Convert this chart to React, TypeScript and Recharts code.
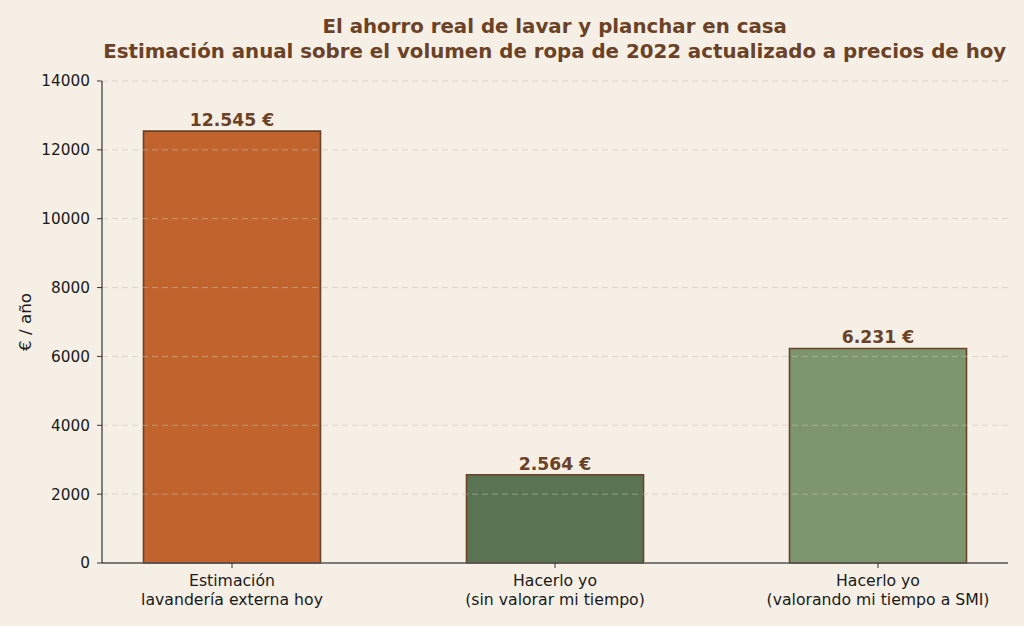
import React from 'react';
import {
  BarChart, Bar, XAxis, YAxis, Cell, LabelList, ReferenceLine
} from 'recharts';

// values
const categories = [
  ['Estimación', 'lavandería externa hoy'],
  ['Hacerlo yo', '(sin valorar mi tiempo)'],
  ['Hacerlo yo', '(valorando mi tiempo a SMI)'],
];
const savings = [12545, 2564, 6231];
const barColors = ['#C0632D', '#5A7352', '#7E9670'];
const yTicks = [0, 2000, 4000, 6000, 8000, 10000, 12000, 14000];
const titleLines = [
  'El ahorro real de lavar y planchar en casa',
  'Estimación anual sobre el volumen de ropa de 2022 actualizado a precios de hoy',
];

const FONT = '"DejaVu Sans", sans-serif';
const BROWN = '#6B4226';

const chartData = savings.map((v, i) => ({ x: i, value: v }));

const euro = (v: any) => `${String(v).replace(/\B(?=(\d{3})+(?!\d))/g, '.')} €`;

const CategoryTick = (props: any) => {
  const { x, y, payload } = props;
  const lines = categories[payload.value] || [];
  return (
    <g transform={`translate(${x},${y})`}>
      <text textAnchor="middle" fill="#1a1a1a" fontSize={15.7} fontFamily={FONT}>
        {lines.map((l, i) => (
          <tspan key={i} x={0} dy={i === 0 ? 16 : 19}>{l}</tspan>
        ))}
      </text>
    </g>
  );
};

export default function App() {
  return (
    <div style={{ position: 'absolute', left: 0, top: 0, width: 1024, height: 626, background: '#F5EFE6' }}>
      <BarChart
        width={1024}
        height={626}
        data={chartData}
        margin={{ top: 81, right: 16, bottom: 0, left: 0 }}
        style={{ fontFamily: FONT }}
      >
        <XAxis
          dataKey="x"
          type="number"
          domain={[-0.4025, 2.4025]}
          ticks={[0, 1, 2]}
          height={63}
          tick={<CategoryTick />}
          tickSize={5}
          tickMargin={2}
          axisLine={{ stroke: '#555', strokeWidth: 1.5 }}
          tickLine={{ stroke: '#333' }}
        />
        <YAxis
          domain={[0, 14000]}
          ticks={yTicks}
          width={102}
          interval={0}
          tickSize={5}
          tickMargin={7}
          axisLine={{ stroke: '#333', strokeWidth: 1.2 }}
          tickLine={{ stroke: '#333' }}
          tick={{ fontSize: 15.3, fill: '#1a1a1a', fontFamily: FONT }}
        />
        <Bar
          dataKey="value"
          barSize={177}
          stroke={BROWN}
          strokeWidth={1.6}
          isAnimationActive={false}
        >
          {chartData.map((d, i) => (
            <Cell key={i} fill={barColors[i]} />
          ))}
          <LabelList
            dataKey="value"
            position="top"
            offset={5}
            formatter={euro}
            style={{ fontSize: 17.3, fontWeight: 700, fill: BROWN, fontFamily: FONT }}
          />
        </Bar>
        {yTicks.slice(1).map((t) => (
          <ReferenceLine
            key={t}
            y={t}
            stroke="#c9c2ad"
            strokeOpacity={0.55}
            strokeDasharray="6 4"
            ifOverflow="extendDomain"
          />
        ))}
      </BarChart>
      <svg width={1024} height={626} style={{ position: 'absolute', left: 0, top: 0, pointerEvents: 'none' }}>
        {titleLines.map((t, i) => (
          <text
            key={i}
            x={554.7}
            y={33 + i * 24.5}
            textAnchor="middle"
            fontSize={19.8}
            fontWeight={700}
            fill={BROWN}
            fontFamily={FONT}
          >
            {t}
          </text>
        ))}
        <text
          transform="translate(31,322) rotate(-90)"
          textAnchor="middle"
          fontSize={16.7}
          fill="#1a1a1a"
          fontFamily={FONT}
        >
          € / año
        </text>
      </svg>
    </div>
  );
}
